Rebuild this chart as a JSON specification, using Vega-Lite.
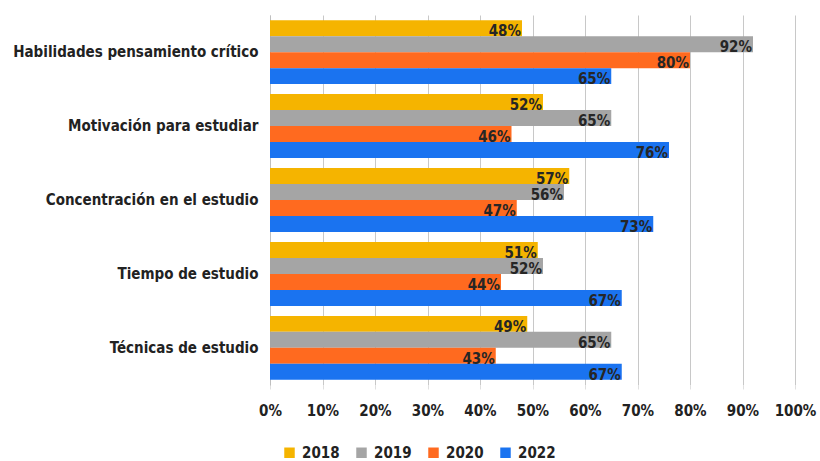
{
  "$schema": "https://vega.github.io/schema/vega-lite/v6.json",
  "autosize": "none",
  "width": 525,
  "height": 370,
  "padding": {"left": 270, "top": 15, "right": 25, "bottom": 76},
  "background": "white",
  "config": {
    "font": "DejaVu Sans Condensed",
    "view": {"stroke": null}
  },
  "data": {
    "values": [
      {"cat": "Habilidades pensamiento crítico", "year": "2018", "v": 0.48},
      {"cat": "Habilidades pensamiento crítico", "year": "2019", "v": 0.92},
      {"cat": "Habilidades pensamiento crítico", "year": "2020", "v": 0.80},
      {"cat": "Habilidades pensamiento crítico", "year": "2022", "v": 0.65},
      {"cat": "Motivación para estudiar", "year": "2018", "v": 0.52},
      {"cat": "Motivación para estudiar", "year": "2019", "v": 0.65},
      {"cat": "Motivación para estudiar", "year": "2020", "v": 0.46},
      {"cat": "Motivación para estudiar", "year": "2022", "v": 0.76},
      {"cat": "Concentración en el estudio", "year": "2018", "v": 0.57},
      {"cat": "Concentración en el estudio", "year": "2019", "v": 0.56},
      {"cat": "Concentración en el estudio", "year": "2020", "v": 0.47},
      {"cat": "Concentración en el estudio", "year": "2022", "v": 0.73},
      {"cat": "Tiempo de estudio", "year": "2018", "v": 0.51},
      {"cat": "Tiempo de estudio", "year": "2019", "v": 0.52},
      {"cat": "Tiempo de estudio", "year": "2020", "v": 0.44},
      {"cat": "Tiempo de estudio", "year": "2022", "v": 0.67},
      {"cat": "Técnicas de estudio", "year": "2018", "v": 0.49},
      {"cat": "Técnicas de estudio", "year": "2019", "v": 0.65},
      {"cat": "Técnicas de estudio", "year": "2020", "v": 0.43},
      {"cat": "Técnicas de estudio", "year": "2022", "v": 0.67}
    ]
  },
  "encoding": {
    "y": {
      "field": "cat", "type": "nominal", "sort": null,
      "scale": {"paddingInner": 0.135, "paddingOuter": 0.07},
      "axis": {
        "title": null, "ticks": false, "domain": true, "domainColor": "#bfbfbf", "domainWidth": 1,
        "labelFontSize": 15, "labelFontWeight": "bold", "labelColor": "#222222", "labelPadding": 12, "labelLimit": 300
      }
    },
    "yOffset": {"field": "year", "type": "nominal", "sort": ["2018", "2019", "2020", "2022"], "scale": {"paddingInner": 0, "paddingOuter": 0}},
    "x": {
      "field": "v", "type": "quantitative",
      "scale": {"domain": [0, 1], "nice": false},
      "axis": {
        "title": null, "values": [0,0.1,0.2,0.3,0.4,0.5,0.6,0.7,0.8,0.9,1], "format": ".0%",
        "labelOverlap": false, "labelFlush": false,
        "grid": true, "gridColor": "#c8c8c8", "gridWidth": 1,
        "domain": false, "ticks": true, "tickColor": "#e0e0e0", "tickSize": 4,
        "labelFontSize": 15, "labelFontWeight": "bold", "labelColor": "#222222", "labelPadding": 14
      }
    }
  },
  "layer": [
    {
      "mark": {"type": "bar"},
      "encoding": {
        "color": {
          "field": "year", "type": "nominal",
          "scale": {"domain": ["2018", "2019", "2020", "2022"], "range": ["#F5B400", "#A5A5A5", "#FF6A1F", "#1A73F0"]},
          "legend": {
            "title": null, "orient": "none", "direction": "horizontal", "legendX": 12, "legendY": 430,
            "symbolType": "square", "symbolSize": 110, "symbolStrokeWidth": 0,
            "labelFontSize": 15, "labelFontWeight": "bold", "labelColor": "#222222",
            "columnPadding": 14, "labelOffset": 5
          }
        }
      }
    },
    {
      "mark": {"type": "text", "align": "right", "baseline": "middle", "dx": -1, "dy": 3, "fontSize": 15, "fontWeight": "bold", "color": "#262626"},
      "encoding": {
        "text": {"field": "v", "type": "quantitative", "format": ".0%"}
      }
    }
  ]
}
